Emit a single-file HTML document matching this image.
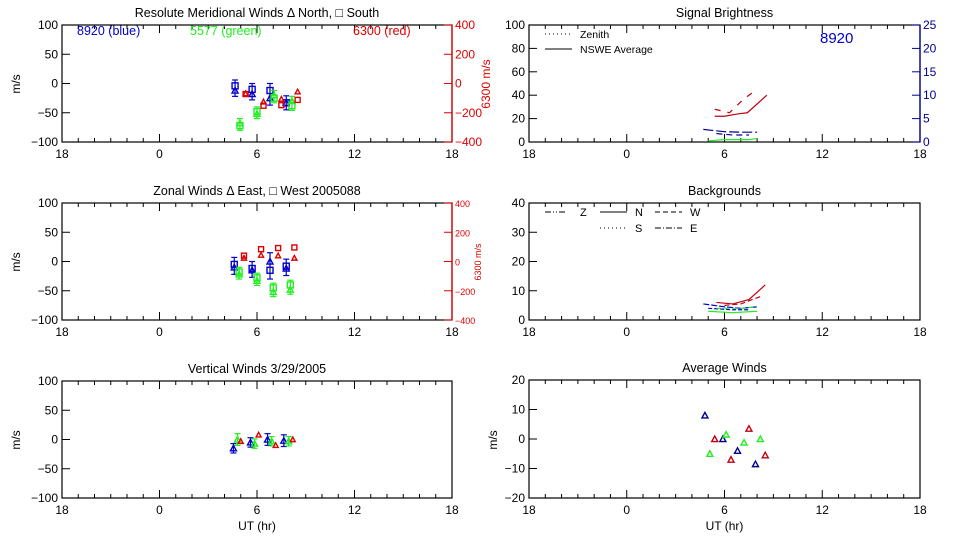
<!DOCTYPE html>
<html><head><meta charset="utf-8"><style>
html,body{margin:0;padding:0;background:#fff;}
svg{display:block;font-family:"Liberation Sans",sans-serif;}
</style></head><body>
<svg id="c" width="960" height="540" viewBox="0 0 960 540" xmlns="http://www.w3.org/2000/svg"></svg>
<script>
// ---- data (hours UT, values) ----
const xTickLabels=["18","0","6","12","18"];
// Meridional
const merBlueT=[4.65,5.7,6.8,7.8];
const merBlueN=[-12,-18,-25,-33];
const merBlueS=[-4,-10,-12,-33];
const merBlueErr=[10,10,12,12];
const merGreenT=[4.95,6.0,7.05,8.15];
const merGreenN=[-68,-52,-20,-30];
const merGreenS=[-72,-48,-25,-38];
const merGreenErr=[8,8,8,8];
const merRedT=[5.3,6.4,7.5,8.5];
const merRedN=[-68,-125,-106,-56];
const merRedS=[-72,-152,-148,-112];
// Zonal
const zonBlueT=[4.6,5.7,6.8,7.8];
const zonBlueE=[-10,-15,0,-12];
const zonBlueW=[-5,-12,-15,-8];
const zonBlueErr=[12,12,15,12];
const zonGreenT=[4.9,6.0,7.0,8.05];
const zonGreenE=[-22,-33,-52,-48];
const zonGreenW=[-18,-28,-45,-40];
const zonGreenErr=[8,8,8,8];
const zonRedT=[5.2,6.25,7.3,8.3];
const zonRedE=[24,44,40,24];
const zonRedW=[40,84,92,96];
// Vertical
const verBlueT=[4.55,5.6,6.65,7.65];
const verBlueV=[-15,-5,0,-2];
const verBlueErr=[8,8,10,10];
const verGreenT=[4.8,5.85,6.9,7.95];
const verGreenV=[0,-7,-3,-3];
const verGreenErr=[10,8,8,8];
const verRedT=[5.0,6.1,7.15,8.2];
const verRedV=[-3,8,-10,0];
// Signal brightness
const sigRedAvgT=[5.4,6.0,6.8,7.4,8.6];
const sigRedAvgV=[22,22,24,25,40];
const sigRedZenT=[5.4,6.3,7.2,8.0];
const sigRedZenV=[28,25,37,45];
const sigBlueAvgT=[4.7,5.2,6.0,7.0,8.0];
const sigBlueAvgV=[2.7,2.5,2.2,2.1,2.1];
const sigBlueZenT=[5.5,6.5,7.5];
const sigBlueZenV=[1.8,1.5,1.5];
const sigGreenT=[5.0,6.0,7.5,8.0];
const sigGreenV=[1,2,2,3];
// Backgrounds
const bgRedNT=[5.5,6.5,7.5,8.5];
const bgRedNV=[6,5.5,7,12];
const bgRedWT=[6.0,7.0,8.2];
const bgRedWV=[5,5.5,8];
const bgBlueNT=[4.7,6.0,7.0,8.0];
const bgBlueNV=[5.5,4.5,4,4.5];
const bgBlueST=[5.0,6.5,7.5];
const bgBlueSV=[4,3.5,3.5];
const bgGreenNT=[5.0,6.5,8.0];
const bgGreenNV=[3,2.5,3];
const bgGreenST=[5.5,7.0,8.0];
const bgGreenSV=[4,4,4.5];
// Average winds
const avgBlueT=[4.8,5.9,6.8,7.9];
const avgBlueV=[8,0,-4,-8.5];
const avgRedT=[5.4,6.4,7.5,8.5];
const avgRedV=[0,-7,3.5,-5.5];
const avgGreenT=[5.1,6.1,7.2,8.2];
const avgGreenV=[-5,1.5,-1.2,0];

const BLUE="#0000c8",GREEN="#22ee22",RED="#dd0000",DRED="#c00010",NAVY="#000090";
const svg=document.getElementById('c');
const NS="http://www.w3.org/2000/svg";
function el(tag,attrs,parent){const e=document.createElementNS(NS,tag);for(const k in attrs)e.setAttribute(k,attrs[k]);(parent||svg).appendChild(e);return e;}
function txt(x,y,s,anchor,size,color,name,rot){const t=el('text',{x:x,y:y,'text-anchor':anchor||'middle','font-size':size||12,fill:color||'#000'});
if(rot)t.setAttribute('transform','rotate(-90 '+x+' '+y+')');
t.textContent=s;


return t;}

function panel(name,x0,x1,y0,y1,ymin,ymax,yticks,title,showUT){
  const g=el('g',{});
  
  
  const sx=h=>x0+(h+6)/24*(x1-x0);
  const sy=v=>y1-(v-ymin)/(ymax-ymin)*(y1-y0);
  const frame=el('rect',{x:x0,y:y0,width:x1-x0,height:y1-y0,fill:'none',stroke:'#000','stroke-width':1.2},g);
  
  
  for(let h=-6;h<=18;h++){const X=sx(h);const L=(h%6===0)?8:4;
    el('line',{x1:X,y1:y1,x2:X,y2:y1-L,stroke:'#000'},g);el('line',{x1:X,y1:y0,x2:X,y2:y0+L,stroke:'#000'},g);}
  xTickLabels.forEach((s,i)=>txt(x0+i*(x1-x0)/4,y1+16,s,'middle',12,'#000',name+'-x-tick'));
  yticks.forEach(v=>{const Y=sy(v);el('line',{x1:x0,y1:Y,x2:x0+8,y2:Y,stroke:'#000'},g);
    txt(x0-4,Y+4,String(v).replace('-','\u2212'),'end',12,'#000',name+'-y-tick');});
  txt((x0+x1)/2,y0-8,title,'middle',12.5,'#000',name+'-title');
  if(showUT)txt((x0+x1)/2,y1+32,'UT (hr)','middle',12,'#000',name+'-x-axis-title');
  return {sx,sy,g};
}
function rightAxis(p,x,y0,y1,min,max,ticks,color,size,name){
  const sy=v=>y1-(v-min)/(max-min)*(y1-y0);
  el('line',{x1:x,y1:y0,x2:x,y2:y1,stroke:color,'stroke-width':1.3},p.g);
  ticks.forEach(v=>{const Y=sy(v);el('line',{x1:x,y1:Y,x2:x-8,y2:Y,stroke:color},p.g);
    txt(x+3,Y+4,String(v).replace('-','\u2212'),'start',size,color,name);});
  return sy;
}
function square(x,y,c,name,s){s=s||6;const r=el('rect',{x:x-s/2,y:y-s/2,width:s,height:s,fill:'none',stroke:c,'stroke-width':1.4});

}
function tri(x,y,c,name,s){s=s||6;const h=s/2;const p=el('polygon',{points:(x-h)+','+(y+h*0.85)+' '+(x+h)+','+(y+h*0.85)+' '+x+','+(y-h),fill:'none',stroke:c,'stroke-width':1.4});

}
function err(x,ya,yb,c){el('line',{x1:x,y1:ya,x2:x,y2:yb,stroke:c,'stroke-width':1.2});
el('line',{x1:x-3,y1:ya,x2:x+3,y2:ya,stroke:c,'stroke-width':1.2});el('line',{x1:x-3,y1:yb,x2:x+3,y2:yb,stroke:c,'stroke-width':1.2});}
function pair(sx,sy,T,A,B,E,c,na,nb){
  T.forEach((t,i)=>{const X=sx(t);const lo=Math.min(A[i],B[i])-E[i],hi=Math.max(A[i],B[i])+E[i];
    err(X,sy(hi),sy(lo),c);
    tri(X,sy(A[i]),c,na);square(X,sy(B[i]),c,nb);});
}
function line(sx,sy,T,V,c,dash,name){const pts=T.map((t,i)=>sx(t)+','+sy(V[i])).join(' ');
const p=el('polyline',{points:pts,fill:'none',stroke:c,'stroke-width':1.2});
if(dash)p.setAttribute('stroke-dasharray',dash);

}

// Left column
const LX0=62,LX1=452;
const p1=panel('meridional-panel',LX0,LX1,25,142,-100,100,[100,50,0,-50,-100],'Resolute Meridional Winds \u0394 North, \u25a1 South');
txt(20,84,'m/s','middle',12,'#000','meridional-y-axis-title',true);
const r1=rightAxis(p1,LX1,25,142,-400,400,[400,200,0,-200,-400],RED,12,'meridional-red-tick');
txt(490,84,'6300 m/s','middle',12,RED,'meridional-red-axis-title',true);
txt(77,35,'8920 (blue)','start',12.5,BLUE,'legend-8920-blue');
txt(190,35,'5577 (green)','start',12.5,GREEN,'legend-5577-green');
txt(353,35,'6300 (red)','start',12.5,RED,'legend-6300-red');
pair(p1.sx,p1.sy,merBlueT,merBlueN,merBlueS,merBlueErr,BLUE,'meridional-blue-north','meridional-blue-south');
pair(p1.sx,p1.sy,merGreenT,merGreenN,merGreenS,merGreenErr,GREEN,'meridional-green-north','meridional-green-south');
merRedT.forEach((t,i)=>{const X=p1.sx(t);
  tri(X,r1(merRedN[i]),RED,'meridional-red-north',5);square(X,r1(merRedS[i]),RED,'meridional-red-south',5);});

const p2=panel('zonal-panel',LX0,LX1,203,320,-100,100,[100,50,0,-50,-100],'Zonal Winds \u0394 East, \u25a1 West 2005088');
txt(20,262,'m/s','middle',12,'#000','zonal-y-axis-title',true);
const r2=rightAxis(p2,LX1,203,320,-400,400,[400,200,0,-200,-400],RED,9,'zonal-red-tick');
txt(481,262,'6300 m/s','middle',9,RED,'zonal-red-axis-title',true);
pair(p2.sx,p2.sy,zonBlueT,zonBlueE,zonBlueW,zonBlueErr,BLUE,'zonal-blue-east','zonal-blue-west');
pair(p2.sx,p2.sy,zonGreenT,zonGreenE,zonGreenW,zonGreenErr,GREEN,'zonal-green-east','zonal-green-west');
zonRedT.forEach((t,i)=>{const X=p2.sx(t);tri(X,r2(zonRedE[i]),RED,'zonal-red-east',5);square(X,r2(zonRedW[i]),RED,'zonal-red-west',5);});

const p3=panel('vertical-panel',LX0,LX1,381,498,-100,100,[100,50,0,-50,-100],'Vertical Winds 3/29/2005',true);
txt(20,440,'m/s','middle',12,'#000','vertical-y-axis-title',true);
verBlueT.forEach((t,i)=>{const X=p3.sx(t);err(X,p3.sy(verBlueV[i]+verBlueErr[i]),p3.sy(verBlueV[i]-verBlueErr[i]),BLUE);tri(X,p3.sy(verBlueV[i]),BLUE,'vertical-blue');});
verGreenT.forEach((t,i)=>{const X=p3.sx(t);err(X,p3.sy(verGreenV[i]+verGreenErr[i]),p3.sy(verGreenV[i]-verGreenErr[i]),GREEN);tri(X,p3.sy(verGreenV[i]),GREEN,'vertical-green');});
verRedT.forEach((t,i)=>{const X=p3.sx(t);tri(X,p3.sy(verRedV[i]),RED,'vertical-red',5);});

// Right column
const RX0=529,RX1=920;
const q1=panel('brightness-panel',RX0,RX1,25,142,0,100,[100,80,60,40,20,0],'Signal Brightness');
const b1=rightAxis(q1,RX1,25,142,0,25,[25,20,15,10,5,0],NAVY,12,'brightness-blue-tick');
txt(820,43,'8920','start',15,BLUE,'brightness-8920-label');
el('line',{x1:545,y1:34,x2:570,y2:34,stroke:'#000','stroke-dasharray':'1,3'});
txt(580,38,'Zenith','start',10.5,'#000','legend-zenith');
el('line',{x1:545,y1:49,x2:572,y2:49,stroke:'#000'});
txt(580,53,'NSWE Average','start',10.5,'#000','legend-nswe-average');
line(q1.sx,q1.sy,sigRedAvgT,sigRedAvgV,DRED,null,'brightness-red-average');
line(q1.sx,q1.sy,sigRedZenT,sigRedZenV,DRED,'6,7','brightness-red-zenith');
line(q1.sx,b1,sigBlueAvgT,sigBlueAvgV,NAVY,'10,3','brightness-blue-average');
line(q1.sx,b1,sigBlueZenT,sigBlueZenV,NAVY,'6,4','brightness-blue-zenith');
line(q1.sx,q1.sy,sigGreenT,sigGreenV,GREEN,null,'brightness-green');

const q2=panel('backgrounds-panel',RX0,RX1,203,320,0,40,[40,30,20,10,0],'Backgrounds');
el('line',{x1:545,y1:212,x2:565,y2:212,stroke:'#000','stroke-dasharray':'6,2,1,2,1,2'});
txt(580,216,'Z','start',11,'#000','legend-z');
el('line',{x1:600,y1:212,x2:627,y2:212,stroke:'#000'});
txt(635,216,'N','start',11,'#000','legend-n');
el('line',{x1:655,y1:212,x2:682,y2:212,stroke:'#000','stroke-dasharray':'5,3'});
txt(690,216,'W','start',11,'#000','legend-w');
el('line',{x1:600,y1:228,x2:627,y2:228,stroke:'#000','stroke-dasharray':'1,3'});
txt(635,232,'S','start',11,'#000','legend-s');
el('line',{x1:655,y1:228,x2:682,y2:228,stroke:'#000','stroke-dasharray':'6,2,1,2'});
txt(690,232,'E','start',11,'#000','legend-e');
line(q2.sx,q2.sy,bgRedNT,bgRedNV,DRED,null,'backgrounds-red-n');
line(q2.sx,q2.sy,bgRedWT,bgRedWV,DRED,'5,3','backgrounds-red-w');
line(q2.sx,q2.sy,bgBlueNT,bgBlueNV,BLUE,'6,2','backgrounds-blue-n');
line(q2.sx,q2.sy,bgBlueST,bgBlueSV,BLUE,'4,2','backgrounds-blue-s');
line(q2.sx,q2.sy,bgGreenNT,bgGreenNV,GREEN,null,'backgrounds-green-n');
line(q2.sx,q2.sy,bgGreenST,bgGreenSV,GREEN,'5,3','backgrounds-green-s');

const q3=panel('average-winds-panel',RX0,RX1,380,498,-20,20,[20,10,0,-10,-20],'Average Winds',true);
txt(497,440,'m/s','middle',12,'#000','average-winds-y-axis-title',true);
avgBlueT.forEach((t,i)=>tri(q3.sx(t),q3.sy(avgBlueV[i]),NAVY,'average-blue'));
avgRedT.forEach((t,i)=>tri(q3.sx(t),q3.sy(avgRedV[i]),DRED,'average-red'));
avgGreenT.forEach((t,i)=>tri(q3.sx(t),q3.sy(avgGreenV[i]),GREEN,'average-green'));
</script>
</body></html>
